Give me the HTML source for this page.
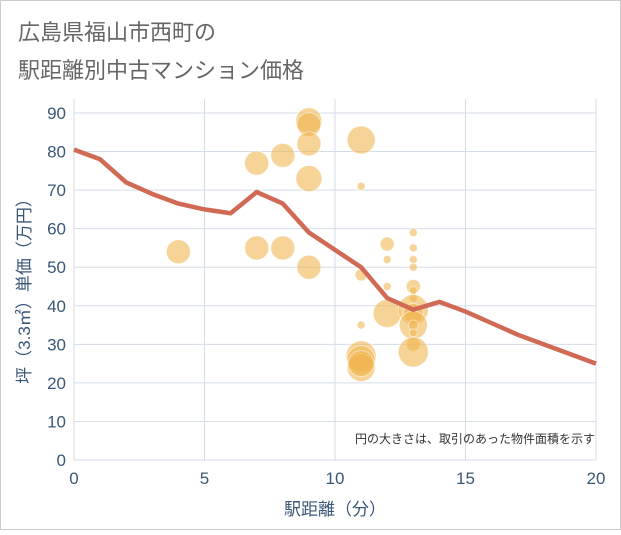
<!DOCTYPE html>
<html><head><meta charset="utf-8"><style>
body{margin:0;background:#fff;}
svg text{font-family:"Liberation Sans","Noto Sans CJK JP",sans-serif;}
</style></head><body>
<svg width="621" height="530" viewBox="0 0 621 530">
<rect x="0.5" y="0.5" width="620" height="529" fill="#fff" stroke="#ccc"/>
<text x="18" y="40" font-size="22" fill="#666">広島県福山市西町の</text>
<text x="18" y="78" font-size="22" fill="#666">駅距離別中古マンション価格</text>
<g id="grid"></g>
<g id="bubbles"></g>
<g id="line"></g>
<g id="axes"></g>
<text x="595" y="443" font-size="12" fill="#333" text-anchor="end">円の大きさは、取引のあった物件面積を示す</text>
<text x="335" y="515" font-size="17" fill="#3b5778" text-anchor="middle">駅距離（分）</text>
<text transform="translate(30,287) rotate(-90)" font-size="17" fill="#3b5778" text-anchor="middle">坪（3.3㎡）単価（万円）</text>
</svg>
<script>
const xTicks=[0,5,10,15,20];
const yTicks=[0,10,20,30,40,50,60,70,80,90];
const bubbleX=[4,7,7,8,8,9,9,9,9,9,11,11,11,11,11,11,11,11,12,12,12,12,13,13,13,13,13,13,13,13,13,13,13,13,13,13];
const bubbleY=[54,77,55,79,55,88,87,82,73,50,83,71,48,35,27,26,24,25,56,52,45,38,59,55,52,50,45,42,44,39,38,35,35,33,30,28];
const bubbleSize=[12,12,12,12,12,13,12,12,13,12,14,4,6,4,15,14,14,13,7,4,4,14,4,4,4,4,7,4,4,15,10,14,5,4,7,15];
const lineX=[0,1,2,3,4,5,6,7,8,9,10,11,12,13,14,15,16,17,18,19,20];
const lineY=[80.5,78,72,69,66.5,65,64,69.5,66.5,59,54.5,50,42,39,41,38.5,35.5,32.5,30,27.5,25];
const NS="http://www.w3.org/2000/svg";
const L=74,R=596,T=99,B=460;
const sx=v=>L+(v-0)/20*(R-L);
const sy=v=>B-v/90*(B-113);
function mk(tag,attrs,parent){const e=document.createElementNS(NS,tag);for(const k in attrs)e.setAttribute(k,attrs[k]);parent.appendChild(e);return e;}
const grid=document.getElementById('grid');
mk('rect',{x:L,y:T,width:R-L,height:B-T,fill:'#fff'},grid);
for(const t of xTicks){const l=mk('line',{x1:sx(t),x2:sx(t),y1:T,y2:B,stroke:'#d5dde8','stroke-width':1},grid);

}
for(const t of yTicks){const l=mk('line',{x1:L,x2:R,y1:sy(t),y2:sy(t),stroke:'#d5dde8','stroke-width':1},grid);

}
const bg=document.getElementById('bubbles');
for(let i=0;i<bubbleX.length;i++){const c=mk('circle',{cx:sx(bubbleX[i]),cy:sy(bubbleY[i]),r:bubbleSize[i],fill:'#f0b650','fill-opacity':0.6,stroke:'#fff','stroke-opacity':0.5,'stroke-width':1},bg);

}
const lg=document.getElementById('line');
const p=mk('polyline',{points:lineX.map((x,i)=>sx(x)+','+sy(lineY[i])).join(' '),fill:'none',stroke:'#d06a55','stroke-width':4.5,'stroke-linejoin':'round'},lg);


const ax=document.getElementById('axes');
for(const t of xTicks){const e=mk('text',{x:sx(t),y:484,'font-size':17,fill:'#3b5778','text-anchor':'middle'},ax);e.textContent=t;

}
for(const t of yTicks){const e=mk('text',{x:66,y:sy(t)+6,'font-size':17,fill:'#3b5778','text-anchor':'end'},ax);e.textContent=t;

}
</script>
</body></html>
